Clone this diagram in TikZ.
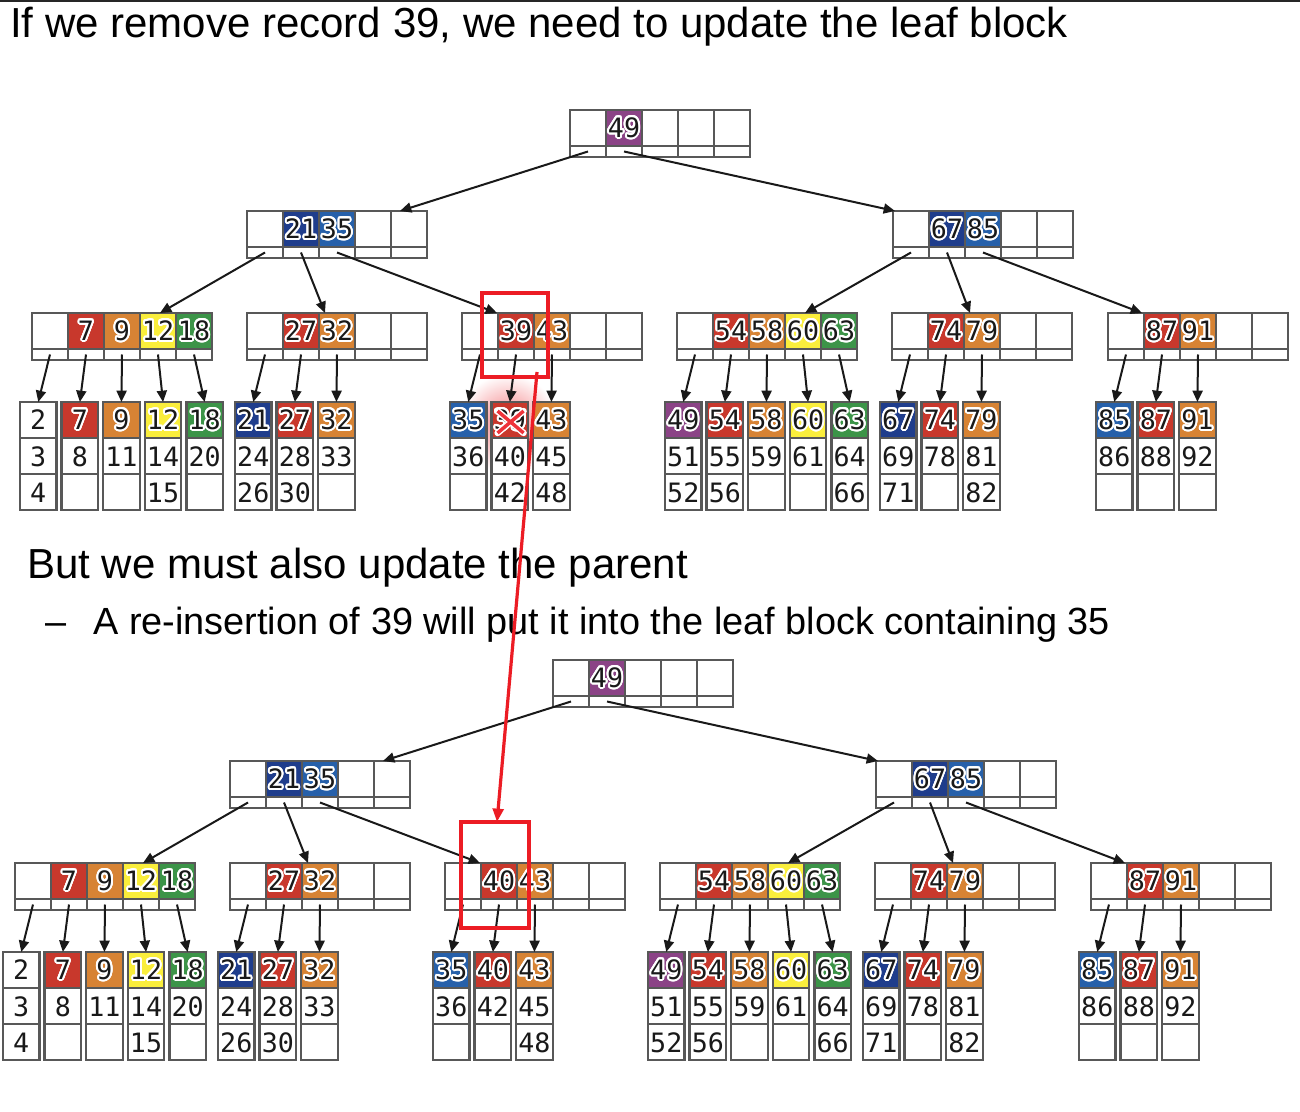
\documentclass[tikz,border=0pt]{standalone}
\usepackage{fontspec}
\setmainfont{Liberation Sans}
\newfontfamily\monofnt{DejaVu Sans Mono}
\usepackage{contour}
\contourlength{1.5pt}
\contournumber{24}
\usetikzlibrary{calc,arrows.meta}

\definecolor{cP}{RGB}{139,67,134}
\definecolor{cDB}{RGB}{31,61,140}
\definecolor{cB}{RGB}{38,96,170}
\definecolor{cR}{RGB}{200,56,44}
\definecolor{cO}{RGB}{215,131,52}
\definecolor{cY}{RGB}{250,238,60}
\definecolor{cG}{RGB}{60,148,72}
\definecolor{cellgray}{RGB}{88,88,88}
\definecolor{annred}{RGB}{236,28,36}

\tikzset{
  cellline/.style={draw=cellgray, line width=1.7pt},
  keytxt/.style={font=\monofnt\fontsize{20}{20}\selectfont, inner sep=0, text=black!90},
  ptr/.style={draw=black!90, line width=1.5pt, -{Triangle[length=8.5pt,width=7.5pt]}},
  blk/.style={anchor=north west, inner sep=0, outer sep=0},
  redbox/.style={draw=annred, line width=2.4pt, anchor=north west, inner sep=0, outer sep=0},
  redline/.style={draw=annred, line width=2.4pt, -{Triangle[length=10pt,width=8pt]}},
  hdr/.style={anchor=base west, inner sep=0, font=\fontsize{31.5}{36}\selectfont},
  subhdr/.style={anchor=base west, inner sep=0, font=\fontsize{28.4}{32}\selectfont},
}

% internal node: name, x, y, keys (cell/colour/text)
\newcommand\inode[4]{%
  \node[blk, minimum width=135pt, minimum height=35.25pt] (#1) at (#2,#3) {};
  \fill[white] (#2,#3) rectangle ++(180,47);
  \foreach \kc/\kcol/\ktx in {#4} {\fill[\kcol] (#2+36*\kc,#3) rectangle ++(36,36);}
  \foreach \ii in {0,...,4} {
    \draw[cellline] (#2+36*\ii,#3) rectangle ++(36,36);
    \draw[cellline] (#2+36*\ii,#3+36) rectangle ++(36,11);
  }
  \foreach \kc/\kcol/\ktx in {#4} {\node[keytxt] at (#2+36*\kc+18,#3+18.5) {\contour{white}{\ktx}};}
}

% leaf: name, x, y, colour, k1, k2, k3
\newcommand\leaf[7]{%
  \node[blk, minimum width=27.375pt, minimum height=81pt] (#1) at (#2,#3) {};
  \fill[white] (#2,#3) rectangle ++(36.5,108);
  \fill[#4] (#2,#3) rectangle ++(36.5,36);
  \draw[cellline] (#2,#3) rectangle ++(36.5,36);
  \draw[cellline] (#2,#3+36) rectangle ++(36.5,36);
  \draw[cellline] (#2,#3+72) rectangle ++(36.5,36);
  \node[keytxt] at (#2+18.25,#3+18.5) {\contour{white}{#5}};
  \node[keytxt] at (#2+18.25,#3+54.5) {#6};
  \node[keytxt] at (#2+18.25,#3+90.5) {#7};
}

% tree: prefix, dx, dy, keys of third level-3 node, contents of its middle leaf
\newcommand\drawtree[7]{%
  \begin{scope}[shift={(#2,#3)}]
    \inode{#1R}{570}{110}{1/cP/49}
    \inode{#1A}{247}{211}{1/cDB/21,2/cB/35}
    \inode{#1B}{893}{211}{1/cDB/67,2/cB/85}
    \inode{#1a}{32}{313}{1/cR/7,2/cO/9,3/cY/12,4/cG/18}
    \inode{#1b}{247}{313}{1/cR/27,2/cO/32}
    \inode{#1c}{462}{313}{#4}
    \inode{#1d}{677}{313}{1/cR/54,2/cO/58,3/cY/60,4/cG/63}
    \inode{#1e}{892}{313}{1/cR/74,2/cO/79}
    \inode{#1f}{1108}{313}{1/cR/87,2/cO/91}
    \leaf{#1a0}{20}{402}{white}{2}{3}{4}
    \leaf{#1a1}{61.6}{402}{cR}{7}{8}{}
    \leaf{#1a2}{103.2}{402}{cO}{9}{11}{}
    \leaf{#1a3}{144.8}{402}{cY}{12}{14}{15}
    \leaf{#1a4}{186.4}{402}{cG}{18}{20}{}
    \leaf{#1b0}{235}{402}{cDB}{21}{24}{26}
    \leaf{#1b1}{276.6}{402}{cR}{27}{28}{30}
    \leaf{#1b2}{318.2}{402}{cO}{32}{33}{}
    \leaf{#1c0}{450}{402}{cB}{35}{36}{}
    \leaf{#1c1}{491.6}{402}{cR}{#5}{#6}{#7}
    \leaf{#1c2}{533.2}{402}{cO}{43}{45}{48}
    \leaf{#1d0}{665}{402}{cP}{49}{51}{52}
    \leaf{#1d1}{706.6}{402}{cR}{54}{55}{56}
    \leaf{#1d2}{748.2}{402}{cO}{58}{59}{}
    \leaf{#1d3}{789.8}{402}{cY}{60}{61}{}
    \leaf{#1d4}{831.4}{402}{cG}{63}{64}{66}
    \leaf{#1e0}{880}{402}{cDB}{67}{69}{71}
    \leaf{#1e1}{921.6}{402}{cR}{74}{78}{}
    \leaf{#1e2}{963.2}{402}{cO}{79}{81}{82}
    \leaf{#1f0}{1096}{402}{cB}{85}{86}{}
    \leaf{#1f1}{1137.6}{402}{cR}{87}{88}{}
    \leaf{#1f2}{1179.2}{402}{cO}{91}{92}{}
  \end{scope}
  \draw[ptr] ($(#1R.north west)+(18,41.5)$) -- ($(#1A.north west)+(153,0)$);
  \draw[ptr] ($(#1R.north west)+(54,41.5)$) -- ($(#1B.north west)+(2,0)$);
  \draw[ptr] ($(#1A.north west)+(18,41.5)$) -- ($(#1a.north west)+(128,0)$);
  \draw[ptr] ($(#1A.north west)+(54,41.5)$) -- ($(#1b.north west)+(78,0)$);
  \draw[ptr] ($(#1A.north west)+(90,41.5)$) -- ($(#1c.north west)+(35,0)$);
  \draw[ptr] ($(#1B.north west)+(18,41.5)$) -- ($(#1d.north west)+(128,0)$);
  \draw[ptr] ($(#1B.north west)+(54,41.5)$) -- ($(#1e.north west)+(78,0)$);
  \draw[ptr] ($(#1B.north west)+(90,41.5)$) -- ($(#1f.north west)+(34,0)$);
  \foreach \nn/\kk in {a/4,b/2,c/2,d/4,e/2,f/2} {
    \foreach \ii in {0,...,\kk} {
      \draw[ptr] ($(#1\nn.north west)+(36*\ii+18,41.5)$) -- (#1\nn\ii.north);
    }
  }
}

\begin{document}
\begin{tikzpicture}[x=0.75pt,y=-0.75pt]
\useasboundingbox (0,0) rectangle (1300,1112);
\fill[white] (0,0) rectangle (1300,1112);
\draw[line width=1.2pt, black!85] (0,0.8) -- (1300,0.8);

% glow behind the removed record
\shade[inner color=annred!60, outer color=white] (508,424) circle (50);

\drawtree{t}{0}{0}{1/cR/39,2/cO/43}{39}{40}{42}
% cross over 39
\draw[white, line width=4.8pt, line cap=round] ($(tc1.north west)+(6,9)$) -- ($(tc1.north west)+(32,31)$);
\draw[white, line width=4.8pt, line cap=round] ($(tc1.north west)+(6,31)$) -- ($(tc1.north west)+(32,9)$);
\draw[annred!90!white, line width=2.6pt] ($(tc1.north west)+(6,9)$) -- ($(tc1.north west)+(32,31)$);
\draw[annred!90!white, line width=2.6pt] ($(tc1.north west)+(6,31)$) -- ($(tc1.north west)+(32,9)$);

\drawtree{b}{-17}{550}{1/cR/40,2/cO/43}{40}{42}{}

% texts
\node[hdr] (h1) at (10,38) {If we remove record 39, we need to update the leaf block};
\node[hdr] (h2) at (27,578) {But we must also update the parent};
\node[subhdr] (h3) at (45,634) {–};
\node[subhdr] (h4) at (93,634) {A re-insertion of 39 will put it into the leaf block containing 35};

% red annotation
\node[redbox, minimum width=49.5pt, minimum height=63pt] (redA) at (482,293) {};
\node[redbox, minimum width=51pt, minimum height=79.5pt] (redB) at (461,822) {};
\draw[redline] ($(redA.south east)+(-11,-5)$) -- ($(redB.north west)+(36,0)$);
\end{tikzpicture}
\end{document}
